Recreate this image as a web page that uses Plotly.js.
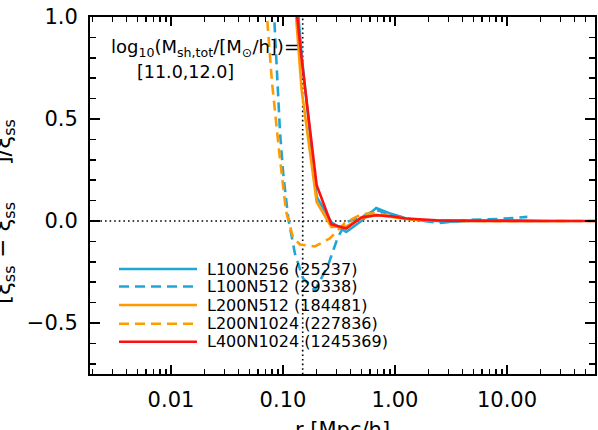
<!DOCTYPE html>
<html>
<head>
<meta charset="utf-8">
<script src="https://cdn.plot.ly/plotly-3.0.1.min.js"></script>
<style>
  body { margin: 0; background: #fff; }
  #chart { width: 598px; height: 430px; }
</style>
</head>
<body>
<div id="chart"></div>
<script>
// Residuals of the subhalo correlation function vs the reference run

// L100N256 (solid blue)
const r100n256 = [0.108, 0.147, 0.20, 0.27, 0.367, 0.50, 0.68, 0.925, 1.26, 1.71, 2.33, 3.17, 4.31, 5.86, 7.97, 10.8, 14.7, 20.0];
const d100n256 = [1.7, 0.81, 0.118, -0.005, -0.054, 0.0, 0.064, 0.035, 0.012, 0.004, 0.0, -0.003, 0.0, 0.002, 0.004, 0.003, 0.002, 0.0];

// L100N512 (dashed blue)
const r100n512 = [0.0735, 0.094, 0.1006, 0.1115, 0.1279, 0.1507, 0.1928, 0.2516, 0.3089, 0.3691, 0.5052, 0.6731, 0.9346, 1.352, 2.50, 4.63, 8.55, 15.2];
const d100n512 = [1.6, 0.44, 0.23, 0.013, -0.16, -0.28, -0.34, -0.22, -0.08, -0.005, 0.02, 0.055, 0.03, 0.01, -0.01, 0.005, 0.01, 0.02];

// L200N512 (solid orange)
const r200n512 = [0.108, 0.147, 0.20, 0.27, 0.367, 0.50, 0.68, 0.925, 1.26, 1.71, 2.33, 3.17, 4.31, 5.86, 7.97, 10.8, 14.7, 20.0, 27.2, 37.0];
const d200n512 = [1.6, 0.64, 0.093, -0.029, -0.026, 0.013, 0.03, 0.02, 0.01, 0.004, 0.002, 0.001, 0, 0, 0, 0, 0, 0, 0, 0];

// L200N1024 (dashed orange)
const r200n1024 = [0.0624, 0.0798, 0.0921, 0.1063, 0.1227, 0.1417, 0.1928, 0.2621, 0.3565, 0.5052, 0.7015, 0.954, 1.66, 3.77, 12.9, 66.5];
const d200n1024 = [1.45, 0.68, 0.35, 0.05, -0.08, -0.115, -0.125, -0.085, -0.01, 0.035, 0.038, 0.02, 0.005, 0.0, 0.0, 0.0];

// L400N1024 (solid red)
const r400n1024 = [0.108, 0.147, 0.20, 0.27, 0.367, 0.50, 0.68, 0.925, 1.26, 1.71, 2.33, 3.17, 4.31, 5.86, 7.97, 10.8, 14.7, 20.0, 27.2, 37.0, 50.3, 68.4];
const d400n1024 = [1.5, 0.79, 0.175, -0.016, -0.037, 0.017, 0.028, 0.023, 0.012, 0.006, 0.003, 0.002, 0.001, 0, 0, 0, 0, 0, 0, 0, 0, 0];

const seriesNames = ['L100N256 (25237)', 'L100N512 (29338)', 'L200N512 (184481)', 'L200N1024 (227836)', 'L400N1024 (1245369)'];
const seriesColors = ['#1fa6d6', '#1fa6d6', '#ff9a00', '#ff9a00', '#ff1010'];
const seriesDash = ['solid', '10px,6px', 'solid', '10px,6px', 'solid'];

// reference guides
const rCut = [0.15, 0.15];
const rCutY = [-1, 2];
const zeroX = [0.001, 100];
const zeroY = [0, 0];

const xTickVals = [0.01, 0.1, 1, 10];
const xTickText = ['0.01', '0.10', '1.00', '10.00'];
const yTickVals = [-0.5, 0, 0.5, 1.0];
const yTickText = ['\u22120.5', '0.0', '0.5', '1.0'];

const FONT = 'DejaVu Sans, sans-serif';

// plot area in pixels
const L = 90, R = 595, T = 17, B = 374;
const px = (x) => (x - L) / (R - L);
const py = (y) => (B - y) / (B - T);

const dots = { color: '#000', width: 1.6, dash: '1.6px,3px' };
const traces = [
    { x: zeroX, y: zeroY, mode: 'lines', line: dots, showlegend: false, hoverinfo: 'skip' },
    { x: rCut, y: rCutY, mode: 'lines', line: dots, showlegend: false, hoverinfo: 'skip' }
];

const xs = [r100n256, r100n512, r200n512, r200n1024, r400n1024];
const ys = [d100n256, d100n512, d200n512, d200n1024, d400n1024];
xs.forEach((x, i) => {
    traces.push({
        x: x, y: ys[i], name: seriesNames[i],
        type: 'scatter', mode: 'lines',
        line: { color: seriesColors[i], width: 2.6, dash: seriesDash[i] },
        showlegend: false
    });
});

// minor ticks positions
const xMinor = [];
for (let d = 0.001; d < 100; d *= 10) {
    for (let k = 2; k <= 9; k++) xMinor.push(+(k * d).toPrecision(2));
}

// hand-made legend
const legendRows = [269, 286.5, 305, 323.7, 341.7];
const shapes = [];
const annotations = [];
seriesNames.forEach((name, i) => {
    shapes.push({
        type: 'line', xref: 'paper', yref: 'paper',
        x0: px(119), x1: px(197), y0: py(legendRows[i]), y1: py(legendRows[i]),
        line: { color: seriesColors[i], width: 2.6, dash: seriesDash[i] }
    });
    annotations.push({
        xref: 'paper', yref: 'paper', x: px(205), y: py(legendRows[i]),
        xanchor: 'left', yanchor: 'middle', showarrow: false,
        text: name, font: { family: FONT, size: 16, color: '#000' }
    });
});

annotations.push({
    xref: 'paper', yref: 'paper', x: px(109), y: py(48),
    xanchor: 'left', yanchor: 'middle', showarrow: false,
    text: 'log<sub>10</sub>(M<sub>sh,tot</sub>/[M<sub>\u2299</sub>/h])=',
    font: { family: FONT, size: 18, color: '#000' }
});
annotations.push({
    xref: 'paper', yref: 'paper', x: px(185), y: py(72),
    xanchor: 'center', yanchor: 'middle', showarrow: false,
    text: '[11.0,12.0]',
    font: { family: FONT, size: 17.5, color: '#000' }
});
// axis titles, both partly cut by the canvas edge
annotations.push({
    xref: 'paper', yref: 'paper', x: 0.5, y: py(416),
    xanchor: 'center', yanchor: 'top', showarrow: false,
    text: 'r [Mpc/h]',
    font: { family: FONT, size: 21, color: '#000' }
});
annotations.push({
    xref: 'paper', yref: 'paper', x: px(21), y: py(212),
    xanchor: 'right', yanchor: 'middle', showarrow: false, textangle: -90,
    text: '[\u03be<sub>ss</sub> \u2212 \u03be<sub>ss</sub>     ]/\u03be<sub>ss</sub>',
    font: { family: FONT, size: 23, color: '#000' }
});

const layout = {
    width: 598, height: 430,
    margin: { l: L, r: 598 - R, t: T, b: 430 - B },
    paper_bgcolor: '#fff', plot_bgcolor: '#fff',
    showlegend: false,
    font: { family: FONT, color: '#000' },
    xaxis: {
        type: 'log', range: [-2.723, 1.786],
        tickmode: 'array', tickvals: xTickVals, ticktext: xTickText,
        ticks: 'inside', ticklen: 9, tickwidth: 1.5, tickcolor: '#000',
        minor: { tickmode: 'array', tickvals: xMinor, ticks: 'inside', ticklen: 5, tickwidth: 1.5, tickcolor: '#000' },
        showline: true, linecolor: '#000', linewidth: 2, mirror: 'allticks',
        showgrid: false, zeroline: false,
        tickfont: { family: FONT, size: 21, color: '#000' },
        ticklabelstandoff: 6
    },
    yaxis: {
        range: [-0.75, 1.0],
        tickmode: 'array', tickvals: yTickVals, ticktext: yTickText,
        ticks: 'inside', ticklen: 10, tickwidth: 1.5, tickcolor: '#000',
        minor: { dtick: 0.1, tick0: 0, ticks: 'inside', ticklen: 6, tickwidth: 1.5, tickcolor: '#000' },
        showline: true, linecolor: '#000', linewidth: 2, mirror: 'allticks',
        showgrid: false, zeroline: false,
        tickfont: { family: FONT, size: 21, color: '#000' },
        ticklabelstandoff: 6
    },
    shapes: shapes,
    annotations: annotations
};

Plotly.newPlot('chart', traces, layout, { staticPlot: true, displayModeBar: false });
</script>
</body>
</html>
